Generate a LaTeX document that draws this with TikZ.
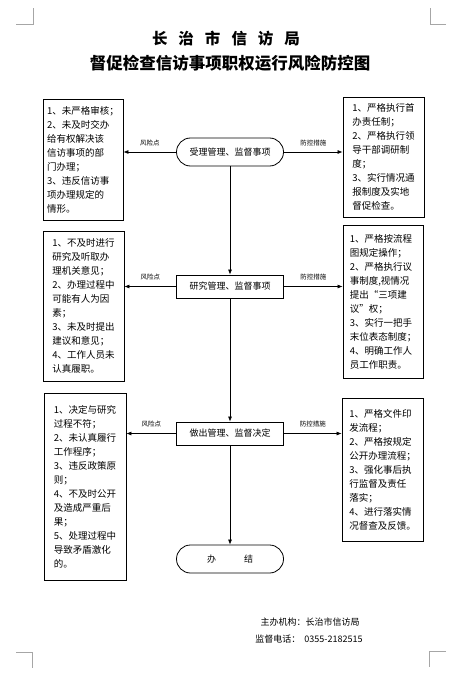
\documentclass[tikz,border=0pt]{standalone}
\usepackage{fontspec}
\setmainfont{Noto Sans CJK SC}
\usetikzlibrary{arrows.meta}

\tikzset{
  stepbox/.style={draw,line width=0.8pt,minimum width=107pt,inner sep=2pt,font=\fontsize{9}{11}\selectfont},
  termbox/.style={stepbox,rounded corners=14pt,minimum height=28pt},
  notebox/.style={draw,line width=0.8pt,align=left,inner sep=0pt,font=\fontsize{9.5}{14}\selectfont},
  smalllabel/.style={font=\fontsize{6.5}{8}\selectfont,inner sep=1pt},
  arr/.style={line width=0.7pt,-{Latex[length=5pt,width=4pt]}},
  cornermark/.style={gray!70,line width=0.6pt}
}

\begin{document}
\begin{tikzpicture}[x=1pt,y=-1pt]
\useasboundingbox (0,0) rectangle (457,674);
% corner marks
\draw[cornermark] (16,24) -- (33,24) -- (33,8);
\draw[cornermark] (446,24) -- (430,24) -- (430,8);
\draw[cornermark] (16,652) -- (32,652) -- (32,668);
\draw[cornermark] (446,651) -- (429,651) -- (429,667);
% title
\node[font=\fontsize{15.5}{18}\selectfont\bfseries] (title) at (226,39)
  {长\hspace{11pt}治\hspace{11pt}市\hspace{11pt}信\hspace{11pt}访\hspace{11pt}局};
\node[font=\fontsize{16.5}{19}\selectfont\bfseries] (subtitle) at (230,63) {督促检查信访事项职权运行风险防控图};
% main steps
\node[termbox] (accept) at (230,152) {受理管理、监督事项};
\node[stepbox,minimum height=23pt] (study) at (230,286.5) {研究管理、监督事项};
\node[stepbox,minimum height=23pt] (decide) at (230,433.5) {做出管理、监督决定};
\node[termbox] (done) at (230,559) {办\hspace{28pt}结};
% risk points
\node[notebox,minimum width=80pt,minimum height=121pt] (risk1) at (83,159.5)
  {1、未严格审核；\\2、未及时交办\\给有权解决该\\信访事项的部\\门办理；\\3、违反信访事\\项办理规定的\\情形。};
\node[notebox,minimum width=81pt,minimum height=150pt] (risk2) at (83.5,306)
  {1、不及时进行\\研究及听取办\\理机关意见；\\2、办理过程中\\可能有人为因\\素；\\3、未及时提出\\建议和意见；\\4、工作人员未\\认真履职。};
\node[notebox,minimum width=82pt,minimum height=187pt] (risk3) at (85,486.5)
  {1、决定与研究\\过程不符；\\2、未认真履行\\工作程序；\\3、违反政策原\\则；\\4、不及时公开\\及造成严重后\\果；\\5、处理过程中\\导致矛盾激化\\的。};
% control measures
\node[notebox,minimum width=81pt,minimum height=120pt] (ctrl1) at (383.5,157)
  {1、严格执行首\\办责任制；\\2、严格执行领\\导干部调研制\\度；\\3、实行情况通\\报制度及实地\\督促检查。};
\node[notebox,minimum width=80pt,minimum height=153pt] (ctrl2) at (383,301.5)
  {1、严格按流程\\图规定操作；\\2、严格执行议\\事制度,视情况\\提出“三项建\\议”权；\\3、实行一把手\\末位表态制度；\\4、明确工作人\\员工作职责。};
\node[notebox,minimum width=81pt,minimum height=143pt] (ctrl3) at (382.5,469.5)
  {1、严格文件印\\发流程；\\2、严格按规定\\公开办理流程；\\3、强化事后执\\行监督及责任\\落实；\\4、进行落实情\\况督查及反馈。};
% flow
\draw[arr] (accept) -- (study);
\draw[arr] (study) -- (decide);
\draw[arr] (decide) -- (done);
\draw[arr] (accept.west) -- node[smalllabel,above=5pt] {风险点} (risk1.east |- accept.west);
\draw[arr] (study.west) -- node[smalllabel,above=5pt] {风险点} (risk2.east |- study.west);
\draw[arr] (decide.west) -- node[smalllabel,above=5pt] {风险点} (risk3.east |- decide.west);
\draw[arr] (accept.east) -- node[smalllabel,above=5pt] {防控措施} (ctrl1.west |- accept.east);
\draw[arr] (study.east) -- node[smalllabel,above=5pt] {防控措施} (ctrl2.west |- study.east);
\draw[arr] (decide.east) -- node[smalllabel,above=5pt] {防控措施} (ctrl3.west |- decide.east);
% footer
\node[font=\fontsize{9}{11}\selectfont] (host) at (310,622) {主办机构：长治市信访局};
\node[font=\fontsize{9}{11}\selectfont] (phone) at (309,639) {监督电话：\hspace{4pt}0355-2182515};
\end{tikzpicture}
\end{document}
